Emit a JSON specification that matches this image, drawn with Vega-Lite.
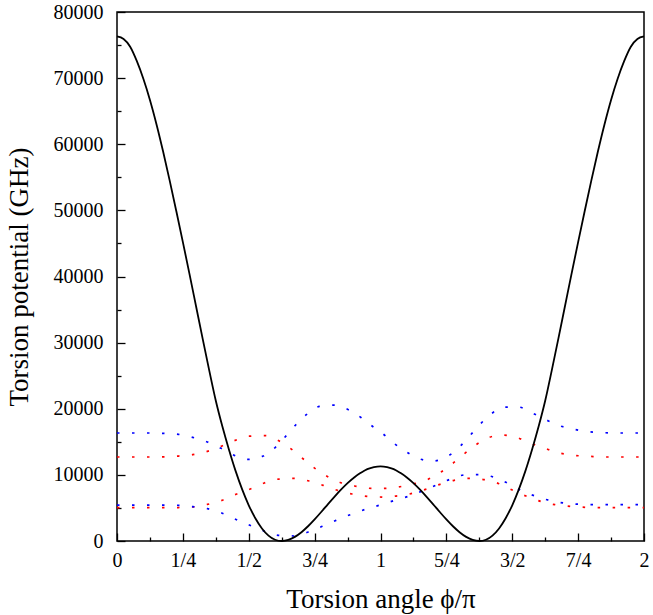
{
  "$schema": "https://vega.github.io/schema/vega-lite/v6.json",
  "width": 527,
  "height": 529,
  "autosize": {"type": "none"},
  "padding": {"left": 117, "top": 12, "right": 9, "bottom": 74},
  "config": {
    "view": {"stroke": "black", "strokeWidth": 1.5},
    "font": "Liberation Serif",
    "axis": {
      "domain": false,
      "grid": false,
      "tickColor": "black",
      "tickWidth": 1.3,
      "labelColor": "black",
      "labelFont": "Liberation Serif",
      "labelFontSize": 20,
      "labelFlush": false,
      "labelOverlap": false,
      "titleFont": "Liberation Serif",
      "titleFontSize": 27,
      "titleFontWeight": "normal",
      "titleColor": "black"
    }
  },
  "datasets": {
    "black": [
      {"phi": 0, "V": 76300}, {"phi": 0.025, "V": 75930}, {"phi": 0.05, "V": 74750}, {"phi": 0.075, "V": 72600},
      {"phi": 0.1, "V": 69900}, {"phi": 0.125, "V": 66700}, {"phi": 0.15, "V": 63000}, {"phi": 0.175, "V": 58900},
      {"phi": 0.2, "V": 54500}, {"phi": 0.225, "V": 49900}, {"phi": 0.25, "V": 45200}, {"phi": 0.275, "V": 40400},
      {"phi": 0.3, "V": 35500}, {"phi": 0.325, "V": 30600}, {"phi": 0.35, "V": 25800}, {"phi": 0.375, "V": 21200},
      {"phi": 0.4, "V": 17300}, {"phi": 0.425, "V": 13800}, {"phi": 0.45, "V": 10600}, {"phi": 0.475, "V": 7800},
      {"phi": 0.5, "V": 5400}, {"phi": 0.525, "V": 3450}, {"phi": 0.55, "V": 1900}, {"phi": 0.575, "V": 820},
      {"phi": 0.6, "V": 190}, {"phi": 0.625, "V": 0}, {"phi": 0.65, "V": 165}, {"phi": 0.675, "V": 625},
      {"phi": 0.7, "V": 1330}, {"phi": 0.725, "V": 2229}, {"phi": 0.75, "V": 3265}, {"phi": 0.775, "V": 4386},
      {"phi": 0.8, "V": 5542}, {"phi": 0.825, "V": 6684}, {"phi": 0.85, "V": 7767}, {"phi": 0.875, "V": 8755},
      {"phi": 0.9, "V": 9611}, {"phi": 0.925, "V": 10307}, {"phi": 0.95, "V": 10880}, {"phi": 0.975, "V": 11190},
      {"phi": 1, "V": 11300},
      {"phi": 1.025, "V": 11190}, {"phi": 1.05, "V": 10880}, {"phi": 1.075, "V": 10307}, {"phi": 1.1, "V": 9611},
      {"phi": 1.125, "V": 8755}, {"phi": 1.15, "V": 7767}, {"phi": 1.175, "V": 6684}, {"phi": 1.2, "V": 5542},
      {"phi": 1.225, "V": 4386}, {"phi": 1.25, "V": 3265}, {"phi": 1.275, "V": 2229}, {"phi": 1.3, "V": 1330},
      {"phi": 1.325, "V": 625}, {"phi": 1.35, "V": 165}, {"phi": 1.375, "V": 0}, {"phi": 1.4, "V": 190},
      {"phi": 1.425, "V": 820}, {"phi": 1.45, "V": 1900}, {"phi": 1.475, "V": 3450}, {"phi": 1.5, "V": 5400},
      {"phi": 1.525, "V": 7800}, {"phi": 1.55, "V": 10600}, {"phi": 1.575, "V": 13800}, {"phi": 1.6, "V": 17300},
      {"phi": 1.625, "V": 21200}, {"phi": 1.65, "V": 25800}, {"phi": 1.675, "V": 30600}, {"phi": 1.7, "V": 35500},
      {"phi": 1.725, "V": 40400}, {"phi": 1.75, "V": 45200}, {"phi": 1.775, "V": 49900}, {"phi": 1.8, "V": 54500},
      {"phi": 1.825, "V": 58900}, {"phi": 1.85, "V": 63000}, {"phi": 1.875, "V": 66700}, {"phi": 1.9, "V": 69900},
      {"phi": 1.925, "V": 72600}, {"phi": 1.95, "V": 74750}, {"phi": 1.975, "V": 75930}, {"phi": 2, "V": 76300}
    ],
    "dots": [
      {"curve": "bu", "color": "blue", "phi": 0, "V": 16330}, {"curve": "bu", "color": "blue", "phi": 0.06, "V": 16330},
      {"curve": "bu", "color": "blue", "phi": 0.117, "V": 16330}, {"curve": "bu", "color": "blue", "phi": 0.173, "V": 16280},
      {"curve": "bu", "color": "blue", "phi": 0.233, "V": 16130}, {"curve": "bu", "color": "blue", "phi": 0.287, "V": 15670},
      {"curve": "bu", "color": "blue", "phi": 0.343, "V": 14970}, {"curve": "bu", "color": "blue", "phi": 0.395, "V": 14010},
      {"curve": "bu", "color": "blue", "phi": 0.445, "V": 12950}, {"curve": "bu", "color": "blue", "phi": 0.498, "V": 12350},
      {"curve": "bu", "color": "blue", "phi": 0.555, "V": 12850}, {"curve": "bu", "color": "blue", "phi": 0.602, "V": 14210},
      {"curve": "bu", "color": "blue", "phi": 0.64, "V": 15830}, {"curve": "bu", "color": "blue", "phi": 0.678, "V": 17540},
      {"curve": "bu", "color": "blue", "phi": 0.72, "V": 19150}, {"curve": "bu", "color": "blue", "phi": 0.768, "V": 20360},
      {"curve": "bu", "color": "blue", "phi": 0.825, "V": 20560}, {"curve": "bu", "color": "blue", "phi": 0.878, "V": 19860},
      {"curve": "bu", "color": "blue", "phi": 0.927, "V": 18650}, {"curve": "bu", "color": "blue", "phi": 0.973, "V": 17240},
      {"curve": "bu", "color": "blue", "phi": 1.004, "V": 16380}, {"curve": "bu", "color": "blue", "phi": 1.046, "V": 14920},
      {"curve": "bu", "color": "blue", "phi": 1.093, "V": 13610}, {"curve": "bu", "color": "blue", "phi": 1.143, "V": 12500},
      {"curve": "bu", "color": "blue", "phi": 1.198, "V": 12100}, {"curve": "bu", "color": "blue", "phi": 1.255, "V": 12800},
      {"curve": "bu", "color": "blue", "phi": 1.299, "V": 14210}, {"curve": "bu", "color": "blue", "phi": 1.337, "V": 15830},
      {"curve": "bu", "color": "blue", "phi": 1.375, "V": 17540}, {"curve": "bu", "color": "blue", "phi": 1.418, "V": 19150},
      {"curve": "bu", "color": "blue", "phi": 1.468, "V": 20260}, {"curve": "bu", "color": "blue", "phi": 1.523, "V": 20260},
      {"curve": "bu", "color": "blue", "phi": 1.576, "V": 19350}, {"curve": "bu", "color": "blue", "phi": 1.627, "V": 18350},
      {"curve": "bu", "color": "blue", "phi": 1.679, "V": 17440}, {"curve": "bu", "color": "blue", "phi": 1.736, "V": 16880},
      {"curve": "bu", "color": "blue", "phi": 1.791, "V": 16530}, {"curve": "bu", "color": "blue", "phi": 1.849, "V": 16380},
      {"curve": "bu", "color": "blue", "phi": 1.906, "V": 16330}, {"curve": "bu", "color": "blue", "phi": 1.963, "V": 16330},
      {"curve": "bu", "color": "blue", "phi": 2, "V": 16330},

      {"curve": "ru", "color": "red", "phi": 0, "V": 12700}, {"curve": "ru", "color": "red", "phi": 0.06, "V": 12700},
      {"curve": "ru", "color": "red", "phi": 0.117, "V": 12700}, {"curve": "ru", "color": "red", "phi": 0.173, "V": 12720},
      {"curve": "ru", "color": "red", "phi": 0.233, "V": 12850}, {"curve": "ru", "color": "red", "phi": 0.287, "V": 13050},
      {"curve": "ru", "color": "red", "phi": 0.343, "V": 13560}, {"curve": "ru", "color": "red", "phi": 0.395, "V": 14310},
      {"curve": "ru", "color": "red", "phi": 0.445, "V": 15170}, {"curve": "ru", "color": "red", "phi": 0.502, "V": 15850},
      {"curve": "ru", "color": "red", "phi": 0.564, "V": 15930}, {"curve": "ru", "color": "red", "phi": 0.616, "V": 15120},
      {"curve": "ru", "color": "red", "phi": 0.663, "V": 13860}, {"curve": "ru", "color": "red", "phi": 0.707, "V": 12400},
      {"curve": "ru", "color": "red", "phi": 0.751, "V": 10990}, {"curve": "ru", "color": "red", "phi": 0.8, "V": 9730},
      {"curve": "ru", "color": "red", "phi": 0.853, "V": 8770}, {"curve": "ru", "color": "red", "phi": 0.908, "V": 8270},
      {"curve": "ru", "color": "red", "phi": 0.966, "V": 7960}, {"curve": "ru", "color": "red", "phi": 1.0, "V": 7950},
      {"curve": "ru", "color": "red", "phi": 1.059, "V": 8110}, {"curve": "ru", "color": "red", "phi": 1.116, "V": 8570},
      {"curve": "ru", "color": "red", "phi": 1.171, "V": 9170}, {"curve": "ru", "color": "red", "phi": 1.222, "V": 10230},
      {"curve": "ru", "color": "red", "phi": 1.268, "V": 11540}, {"curve": "ru", "color": "red", "phi": 1.312, "V": 13000},
      {"curve": "ru", "color": "red", "phi": 1.357, "V": 14410}, {"curve": "ru", "color": "red", "phi": 1.407, "V": 15570},
      {"curve": "ru", "color": "red", "phi": 1.462, "V": 16030}, {"curve": "ru", "color": "red", "phi": 1.519, "V": 15620},
      {"curve": "ru", "color": "red", "phi": 1.571, "V": 14770}, {"curve": "ru", "color": "red", "phi": 1.624, "V": 14010},
      {"curve": "ru", "color": "red", "phi": 1.679, "V": 13310}, {"curve": "ru", "color": "red", "phi": 1.736, "V": 12950},
      {"curve": "ru", "color": "red", "phi": 1.793, "V": 12800}, {"curve": "ru", "color": "red", "phi": 1.85, "V": 12700},
      {"curve": "ru", "color": "red", "phi": 1.906, "V": 12700}, {"curve": "ru", "color": "red", "phi": 1.963, "V": 12700},
      {"curve": "ru", "color": "red", "phi": 2, "V": 12700},

      {"curve": "rl", "color": "red", "phi": 0, "V": 5040}, {"curve": "rl", "color": "red", "phi": 0.06, "V": 5040},
      {"curve": "rl", "color": "red", "phi": 0.117, "V": 5040}, {"curve": "rl", "color": "red", "phi": 0.173, "V": 5040},
      {"curve": "rl", "color": "red", "phi": 0.233, "V": 5060}, {"curve": "rl", "color": "red", "phi": 0.287, "V": 5150},
      {"curve": "rl", "color": "red", "phi": 0.343, "V": 5540}, {"curve": "rl", "color": "red", "phi": 0.395, "V": 6100},
      {"curve": "rl", "color": "red", "phi": 0.445, "V": 6960}, {"curve": "rl", "color": "red", "phi": 0.506, "V": 7860},
      {"curve": "rl", "color": "red", "phi": 0.559, "V": 8770}, {"curve": "rl", "color": "red", "phi": 0.615, "V": 9370},
      {"curve": "rl", "color": "red", "phi": 0.672, "V": 9480}, {"curve": "rl", "color": "red", "phi": 0.729, "V": 9070},
      {"curve": "rl", "color": "red", "phi": 0.782, "V": 8420}, {"curve": "rl", "color": "red", "phi": 0.837, "V": 7660},
      {"curve": "rl", "color": "red", "phi": 0.892, "V": 7110}, {"curve": "rl", "color": "red", "phi": 0.949, "V": 6750},
      {"curve": "rl", "color": "red", "phi": 1.004, "V": 6650}, {"curve": "rl", "color": "red", "phi": 1.059, "V": 6800},
      {"curve": "rl", "color": "red", "phi": 1.116, "V": 7160}, {"curve": "rl", "color": "red", "phi": 1.171, "V": 7810},
      {"curve": "rl", "color": "red", "phi": 1.226, "V": 8570}, {"curve": "rl", "color": "red", "phi": 1.279, "V": 9170},
      {"curve": "rl", "color": "red", "phi": 1.337, "V": 9480}, {"curve": "rl", "color": "red", "phi": 1.394, "V": 9270},
      {"curve": "rl", "color": "red", "phi": 1.45, "V": 8670}, {"curve": "rl", "color": "red", "phi": 1.502, "V": 7660},
      {"curve": "rl", "color": "red", "phi": 1.552, "V": 6800}, {"curve": "rl", "color": "red", "phi": 1.608, "V": 6000},
      {"curve": "rl", "color": "red", "phi": 1.662, "V": 5490}, {"curve": "rl", "color": "red", "phi": 1.72, "V": 5240},
      {"curve": "rl", "color": "red", "phi": 1.777, "V": 5090}, {"curve": "rl", "color": "red", "phi": 1.834, "V": 5040},
      {"curve": "rl", "color": "red", "phi": 1.9, "V": 5040}, {"curve": "rl", "color": "red", "phi": 2, "V": 5040},

      {"curve": "bl", "color": "blue", "phi": 0, "V": 5440}, {"curve": "bl", "color": "blue", "phi": 0.06, "V": 5440},
      {"curve": "bl", "color": "blue", "phi": 0.117, "V": 5440}, {"curve": "bl", "color": "blue", "phi": 0.173, "V": 5440},
      {"curve": "bl", "color": "blue", "phi": 0.233, "V": 5400}, {"curve": "bl", "color": "blue", "phi": 0.287, "V": 5190},
      {"curve": "bl", "color": "blue", "phi": 0.343, "V": 4890}, {"curve": "bl", "color": "blue", "phi": 0.395, "V": 4280},
      {"curve": "bl", "color": "blue", "phi": 0.445, "V": 3380}, {"curve": "bl", "color": "blue", "phi": 0.502, "V": 2420},
      {"curve": "bl", "color": "blue", "phi": 0.557, "V": 1510}, {"curve": "bl", "color": "blue", "phi": 0.612, "V": 850},
      {"curve": "bl", "color": "blue", "phi": 0.67, "V": 760}, {"curve": "bl", "color": "blue", "phi": 0.726, "V": 1360},
      {"curve": "bl", "color": "blue", "phi": 0.779, "V": 2220}, {"curve": "bl", "color": "blue", "phi": 0.831, "V": 3120},
      {"curve": "bl", "color": "blue", "phi": 0.885, "V": 3980}, {"curve": "bl", "color": "blue", "phi": 0.939, "V": 4740},
      {"curve": "bl", "color": "blue", "phi": 0.998, "V": 5440}, {"curve": "bl", "color": "blue", "phi": 1.055, "V": 6150},
      {"curve": "bl", "color": "blue", "phi": 1.112, "V": 6850}, {"curve": "bl", "color": "blue", "phi": 1.165, "V": 7660},
      {"curve": "bl", "color": "blue", "phi": 1.219, "V": 8570}, {"curve": "bl", "color": "blue", "phi": 1.27, "V": 9420},
      {"curve": "bl", "color": "blue", "phi": 1.327, "V": 10030}, {"curve": "bl", "color": "blue", "phi": 1.384, "V": 10030},
      {"curve": "bl", "color": "blue", "phi": 1.438, "V": 9530}, {"curve": "bl", "color": "blue", "phi": 1.491, "V": 8570},
      {"curve": "bl", "color": "blue", "phi": 1.538, "V": 7560}, {"curve": "bl", "color": "blue", "phi": 1.594, "V": 6700},
      {"curve": "bl", "color": "blue", "phi": 1.65, "V": 6050}, {"curve": "bl", "color": "blue", "phi": 1.707, "V": 5700},
      {"curve": "bl", "color": "blue", "phi": 1.764, "V": 5540}, {"curve": "bl", "color": "blue", "phi": 1.82, "V": 5490},
      {"curve": "bl", "color": "blue", "phi": 1.9, "V": 5490}, {"curve": "bl", "color": "blue", "phi": 2, "V": 5490}
    ]
  },
  "layer": [
    {
      "data": {"name": "dots"},
      "mark": {"type": "line", "strokeDash": [2.5, 12.5], "strokeWidth": 1.7, "interpolate": "monotone"},
      "encoding": {
        "x": {
          "field": "phi", "type": "quantitative",
          "scale": {"domain": [0, 2], "nice": false, "zero": false},
          "axis": {"orient": "bottom", "values": [0.125, 0.375, 0.625, 0.875, 1.125, 1.375, 1.625, 1.875], "tickSize": -4, "labels": false, "title": null}
        },
        "y": {
          "field": "V", "type": "quantitative",
          "scale": {"domain": [0, 80000], "nice": false},
          "axis": {"orient": "left", "values": [5000, 15000, 25000, 35000, 45000, 55000, 65000, 75000], "tickSize": -4, "labels": false, "title": null}
        },
        "color": {"field": "color", "type": "nominal", "scale": {"domain": ["blue", "red"], "range": ["#0000ff", "#ff0000"]}, "legend": null},
        "detail": {"field": "curve"}
      }
    },
    {
      "data": {"name": "black"},
      "mark": {"type": "line", "color": "black", "strokeWidth": 1.8, "interpolate": "monotone"},
      "encoding": {
        "x": {
          "field": "phi", "type": "quantitative",
          "axis": {
            "orient": "bottom",
            "values": [0, 0.25, 0.5, 0.75, 1, 1.25, 1.5, 1.75, 2],
            "tickSize": -8, "labelPadding": 17,
            "labelExpr": "['0','1/4','1/2','3/4','1','5/4','3/2','7/4','2'][round(datum.value*4)]",
            "title": "Torsion angle ϕ/π", "titlePadding": 16
          }
        },
        "y": {
          "field": "V", "type": "quantitative",
          "axis": {
            "orient": "left",
            "values": [0, 10000, 20000, 30000, 40000, 50000, 60000, 70000, 80000],
            "format": "d",
            "tickSize": -8, "labelPadding": 22,
            "title": "Torsion potential (GHz)", "titlePadding": 20
          }
        }
      }
    }
  ],
  "resolve": {"axis": {"x": "independent", "y": "independent"}}
}
